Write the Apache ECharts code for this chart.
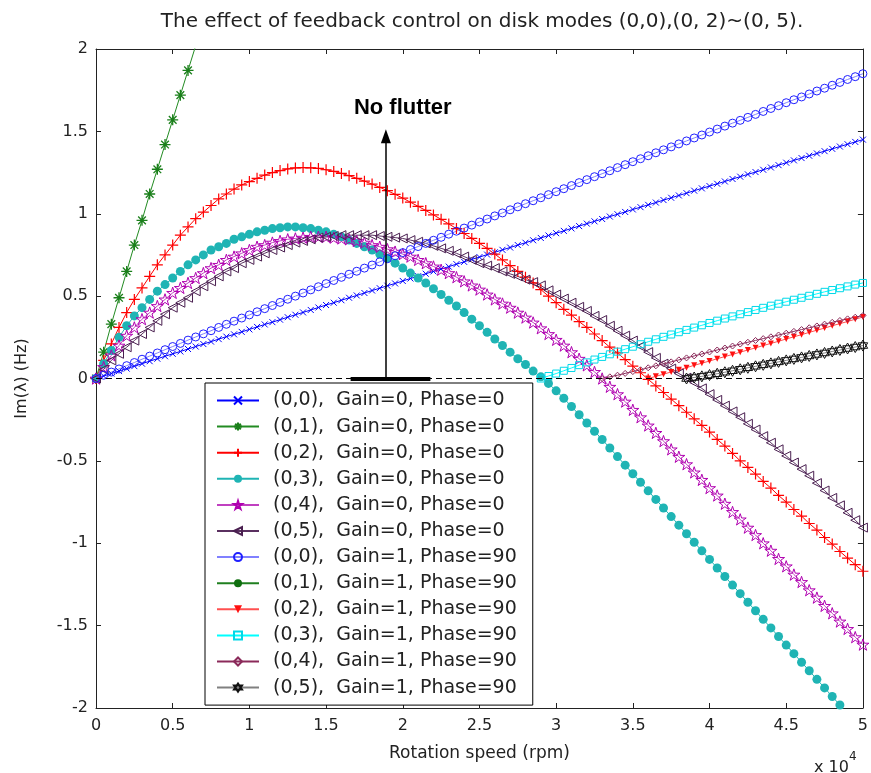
<!DOCTYPE html>
<html>
<head>
<meta charset="utf-8">
<script src="https://cdn.jsdelivr.net/npm/echarts@6/dist/echarts.min.js"></script>
<style>html,body{margin:0;padding:0;background:#fff}#c{width:871px;height:773px}</style>
</head>
<body>
<div id="c"></div>
<script>
// x grid: rotation speed in units of 1e4 rpm, sampled every 0.05
const speed = Array.from({length: 101}, (_, i) => +(i * 0.05).toFixed(2));
const xTicks = [0, 0.5, 1, 1.5, 2, 2.5, 3, 3.5, 4, 4.5, 5];
const yTicks = [-2, -1.5, -1, -0.5, 0, 0.5, 1, 1.5, 2];

// Gain=0, Phase=0 curves (start at speed index 0)
const m00g0 = [0,.015,.03,.045,.06,.075,.09,.105,.12,.135,.15,.164,.179,.194,.209,.224,.239,.254,.268,.283,.298,.313,.328,.342,.357,.372,.387,.401,.416,.431,.446,.46,.475,.49,.504,.519,.534,.548,.563,.577,.592,.607,.621,.636,.65,.665,.679,.694,.708,.723,.737,.752,.766,.781,.795,.81,.824,.839,.853,.868,.882,.896,.911,.925,.94,.954,.968,.983,.997,1.011,1.026,1.04,1.054,1.068,1.083,1.097,1.111,1.125,1.14,1.154,1.168,1.182,1.196,1.211,1.225,1.239,1.253,1.267,1.281,1.295,1.31,1.324,1.338,1.352,1.366,1.38,1.394,1.408,1.422,1.436,1.45];
const m01g0 = [0,.16,.33,.49,.65,.81,.96,1.12,1.27,1.42,1.57,1.72,1.87,2.02,2.16];
const m02g0 = [0,.11,.21,.31,.40,.48,.55,.62,.69,.75,.81,.87,.92,.97,1.01,1.05,1.09,1.12,1.15,1.175,1.195,1.215,1.235,1.25,1.262,1.272,1.278,1.28,1.279,1.275,1.267,1.257,1.245,1.231,1.215,1.198,1.18,1.16,1.14,1.118,1.095,1.07,1.045,1.02,.993,.966,.938,.91,.88,.85,.82,.79,.755,.72,.685,.65,.615,.58,.54,.50,.46,.42,.385,.345,.31,.27,.23,.19,.155,.115,.075,.035,-.005,-.045,-.085,-.125,-.165,-.205,-.245,-.285,-.325,-.37,-.41,-.455,-.50,-.54,-.58,-.625,-.665,-.71,-.75,-.795,-.835,-.88,-.92,-.965,-1.005,-1.05,-1.09,-1.13,-1.17];
const m03g0 = [0,.09,.17,.25,.32,.38,.43,.48,.53,.57,.61,.65,.69,.72,.75,.78,.80,.82,.845,.86,.875,.89,.90,.91,.915,.92,.92,.915,.91,.90,.89,.875,.86,.84,.82,.80,.78,.755,.73,.70,.67,.64,.61,.58,.545,.51,.475,.44,.40,.36,.32,.28,.24,.20,.16,.12,.085,.045,.01,-.03,-.075,-.12,-.17,-.22,-.27,-.32,-.37,-.422,-.474,-.526,-.578,-.63,-.682,-.734,-.786,-.838,-.89,-.942,-.994,-1.046,-1.098,-1.15,-1.202,-1.254,-1.306,-1.358,-1.41,-1.462,-1.514,-1.566,-1.618,-1.67,-1.722,-1.774,-1.826,-1.878,-1.93,-1.982,-2.034];
const m04g0 = [0,.07,.14,.20,.26,.31,.36,.40,.44,.48,.52,.55,.58,.61,.64,.67,.69,.72,.74,.76,.78,.80,.81,.825,.835,.845,.85,.855,.86,.86,.86,.855,.85,.845,.835,.825,.81,.80,.785,.77,.755,.74,.72,.70,.68,.66,.64,.615,.59,.565,.54,.51,.48,.455,.43,.40,.37,.34,.305,.27,.235,.20,.16,.12,.08,.04,0,-.05,-.095,-.14,-.19,-.235,-.285,-.33,-.38,-.43,-.475,-.52,-.57,-.615,-.665,-.71,-.76,-.81,-.855,-.905,-.95,-1.0,-1.045,-1.095,-1.14,-1.19,-1.235,-1.285,-1.33,-1.38,-1.425,-1.475,-1.52,-1.57,-1.615];
const m05g0 = [0,.055,.11,.15,.19,.23,.27,.31,.35,.39,.43,.46,.49,.53,.56,.59,.62,.65,.67,.70,.72,.74,.76,.78,.795,.81,.825,.835,.845,.855,.86,.865,.87,.87,.87,.87,.87,.865,.86,.855,.85,.84,.83,.82,.805,.79,.775,.76,.74,.72,.70,.685,.67,.65,.635,.62,.60,.585,.565,.535,.51,.485,.46,.435,.41,.38,.355,.32,.29,.26,.23,.195,.16,.125,.09,.06,.03,.005,-.025,-.06,-.095,-.13,-.165,-.20,-.235,-.275,-.31,-.35,-.39,-.43,-.47,-.51,-.55,-.59,-.635,-.68,-.725,-.77,-.815,-.86,-.905];

// Gain=1, Phase=90 curves
const m00g1 = [0,.02,.039,.058,.078,.097,.117,.136,.155,.175,.194,.213,.233,.252,.271,.29,.31,.329,.348,.367,.386,.405,.424,.443,.462,.481,.5,.519,.538,.557,.576,.595,.614,.633,.651,.67,.689,.708,.727,.745,.764,.783,.801,.82,.839,.857,.876,.894,.913,.931,.95,.968,.987,1.005,1.024,1.042,1.061,1.079,1.097,1.116,1.134,1.152,1.171,1.189,1.207,1.225,1.243,1.261,1.28,1.298,1.316,1.334,1.352,1.37,1.388,1.406,1.424,1.442,1.46,1.478,1.496,1.514,1.532,1.55,1.567,1.585,1.603,1.621,1.639,1.656,1.674,1.692,1.709,1.727,1.745,1.762,1.78,1.797,1.815,1.832,1.85];
const m01g1 = [];
const m02g1Start = 72; // speed 3.6
const m02g1 = [0,.013,.026,.04,.053,.066,.08,.093,.106,.12,.133,.146,.16,.173,.186,.20,.213,.226,.24,.253,.266,.28,.293,.306,.32,.333,.346,.36,.373];
const m03g1Start = 58; // speed 2.9
const m03g1 = [0,.015,.03,.047,.064,.081,.098,.115,.131,.147,.163,.178,.193,.208,.223,.238,.253,.267,.281,.295,.309,.323,.337,.351,.364,.377,.39,.403,.416,.429,.442,.454,.466,.478,.49,.502,.514,.526,.537,.548,.559,.57,.58];
const m04g1Start = 66; // speed 3.3
const m04g1 = [0,.01,.02,.031,.042,.053,.065,.077,.089,.101,.113,.125,.137,.149,.161,.173,.185,.197,.209,.22,.231,.242,.253,.264,.275,.286,.297,.308,.319,.33,.341,.352,.362,.372,.382];
const m05g1Start = 77; // speed 3.85
const m05g1 = [0,.006,.013,.021,.029,.038,.047,.056,.065,.074,.083,.092,.101,.11,.119,.128,.137,.146,.155,.164,.173,.182,.191,.2];

// annotation: "No flutter" arrow and bar
const flutterBar = [1.66, 2.18];
const arrowX = 1.89, arrowTop = 1.47;
const noteText = 'No flutter', notePos = [2.0, 1.64];

const names = [
  '(0,0),  Gain=0, Phase=0','(0,1),  Gain=0, Phase=0','(0,2),  Gain=0, Phase=0',
  '(0,3),  Gain=0, Phase=0','(0,4),  Gain=0, Phase=0','(0,5),  Gain=0, Phase=0',
  '(0,0),  Gain=1, Phase=90','(0,1),  Gain=1, Phase=90','(0,2),  Gain=1, Phase=90',
  '(0,3),  Gain=1, Phase=90','(0,4),  Gain=1, Phase=90','(0,5),  Gain=1, Phase=90'
];

function pts(start, ys) { return ys.map((y, k) => [speed[start + k], y]); }

const SYM = {
  cross: 'path://M0,0L10,10M0,10L10,0',
  plus: 'path://M5,0L5,10M0,5L10,5',
  aster: 'path://M5,0L5,10M0,5L10,5M1.5,1.5L8.5,8.5M1.5,8.5L8.5,1.5',
  star5: 'path://M5,0L6.18,3.62L10,3.62L6.91,5.86L8.09,9.5L5,7.25L1.91,9.5L3.09,5.86L0,3.62L3.82,3.62Z',
  triLeft: 'path://M0,5L10,0L10,10Z',
  hexa: 'path://M5,0L9.33,7.5L0.67,7.5ZM5,10L9.33,2.5L0.67,2.5Z'
};
const T = 'rgba(0,0,0,0)';

function ser(name, data, line, sym, size, fill, stroke, bw, rotate) {
  return {
    name, type: 'line', data, symbol: sym, symbolSize: size, symbolKeepAspect: true,
    symbolRotate: rotate || 0, showSymbol: true, showAllSymbol: true,
    lineStyle: {color: line, width: 1}, itemStyle: {color: fill, borderColor: stroke, borderWidth: bw},
    emphasis: {disabled: true}, animation: false, clip: true, z: 2
  };
}

const series = [
  ser(names[0], pts(0, m00g0), '#0000ff', SYM.cross, 6, T, '#0000ff', 1),
  ser(names[1], pts(0, m01g0), '#228b22', SYM.aster, 11, T, '#1a7f1a', 1.3),
  ser(names[2], pts(0, m02g0), '#ff0000', SYM.plus, 11, T, '#ff0000', 1.2),
  ser(names[3], pts(0, m03g0), '#1fb4b4', 'circle', 9, '#1fb4b4', '#1fb4b4', 0),
  ser(names[4], pts(0, m04g0), '#c040c0', SYM.star5, 12, T, '#b000b0', 1),
  ser(names[5], pts(0, m05g0), '#5a3060', SYM.triLeft, 9, T, '#4a1f50', 1),
  ser(names[6], pts(0, m00g1), '#8080ff', 'circle', 8, T, '#2020ff', 1),
  ser(names[7], pts(0, m01g1), '#1f7f1f', 'circle', 8, '#0f6f0f', '#0f6f0f', 0),
  ser(names[8], pts(m02g1Start, m02g1), '#ff5050', 'triangle', 6, '#ff1010', '#ff1010', 0, 180),
  ser(names[9], pts(m03g1Start, m03g1), '#00ffff', 'rect', 7, T, '#00d8e8', 1),
  ser(names[10], pts(m04g1Start, m04g1), '#8b2a5a', 'diamond', 6, T, '#8b2a5a', 1),
  ser(names[11], pts(m05g1Start, m05g1), '#808080', SYM.hexa, 11, T, '#111111', 1),
  {
    name: 'annot', type: 'line', data: [], silent: true, animation: false, z: 3,
    markLine: {
      silent: true, animation: false, symbol: 'none', label: {show: false},
      data: [
        [{coord: [0, 0], lineStyle: {color: '#000', width: 1, type: [6, 4]}}, {coord: [5, 0]}],
        [{coord: [flutterBar[0], 0], lineStyle: {color: '#000', width: 4, type: 'solid'}}, {coord: [flutterBar[1], 0]}],
        [{coord: [arrowX, 0], symbol: 'none', lineStyle: {color: '#000', width: 1.5, type: 'solid'}},
         {coord: [arrowX, arrowTop], symbol: 'triangle', symbolSize: [10, 14]}]
      ]
    },
    markPoint: {
      silent: true, animation: false, symbol: 'circle', symbolSize: 0,
      data: [{coord: notePos, label: {show: true, formatter: noteText, position: 'inside',
        fontFamily: 'Liberation Sans, Arial, sans-serif', fontWeight: 'bold', fontSize: 22, color: '#000'}}]
    }
  }
];

const FONT = 'DejaVu Sans, sans-serif';
const tickFont = {fontFamily: FONT, fontSize: 16, color: '#222'};
const axisCommon = {
  axisLine: {show: true, onZero: false, lineStyle: {color: '#222', width: 1}},
  axisTick: {show: true, inside: true, length: 5, lineStyle: {color: '#222'}},
  splitLine: {show: false}
};

const chart = echarts.init(document.getElementById('c'), null, {renderer: 'canvas'});
chart.setOption({
  animation: false,
  backgroundColor: '#fff',
  grid: {left: 96, right: 3, top: 49, bottom: 65, containLabel: false},
  xAxis: [
    Object.assign({type: 'value', min: xTicks[0], max: xTicks[xTicks.length - 1], interval: 0.5, position: 'bottom',
      axisLabel: Object.assign({margin: 10}, tickFont),
      name: 'Rotation speed (rpm)', nameLocation: 'middle', nameGap: 37,
      nameTextStyle: {fontFamily: FONT, fontSize: 17, color: '#222'}}, axisCommon),
    Object.assign({type: 'value', min: xTicks[0], max: xTicks[xTicks.length - 1], interval: 0.5, position: 'top',
      axisLabel: {show: false}}, axisCommon)
  ],
  yAxis: [
    Object.assign({type: 'value', min: yTicks[0], max: yTicks[yTicks.length - 1], interval: 0.5, position: 'left',
      axisLabel: Object.assign({margin: 8}, tickFont),
      name: 'Im(λ) (Hz)', nameLocation: 'middle', nameGap: 66, nameRotate: 90,
      nameTextStyle: {fontFamily: FONT, fontSize: 16, color: '#222'}}, axisCommon),
    Object.assign({type: 'value', min: yTicks[0], max: yTicks[yTicks.length - 1], interval: 0.5, position: 'right',
      axisLabel: {show: false}}, axisCommon)
  ],
  legend: {
    data: names, orient: 'vertical', left: 205, top: 383, selectedMode: false,
    itemWidth: 42, itemHeight: 10, itemGap: 7.1,
    padding: [8, 16, 8, 11],
    backgroundColor: '#fff', borderColor: '#000', borderWidth: 1, borderRadius: 0,
    textStyle: {fontFamily: FONT, fontSize: 19, color: '#222', padding: [0, 0, 0, 9]},
    z: 10
  },
  graphic: [
    {type: 'text', x: 482, y: 12, z: 10,
      style: {text: 'The effect of feedback control on disk modes (0,0),(0, 2)~(0, 5).',
        font: '20px DejaVu Sans, sans-serif', fill: '#222', textAlign: 'center'}},
    {type: 'text', x: 814, y: 751, z: 10,
      style: {text: '{a|x 10}{s|4}', rich: {
        a: {font: '16px DejaVu Sans, sans-serif', fill: '#222', verticalAlign: 'bottom', padding: [9, 0, 0, 0]},
        s: {font: '12px DejaVu Sans, sans-serif', fill: '#222', verticalAlign: 'top'}}}}
  ],
  series
});
</script>
</body>
</html>
